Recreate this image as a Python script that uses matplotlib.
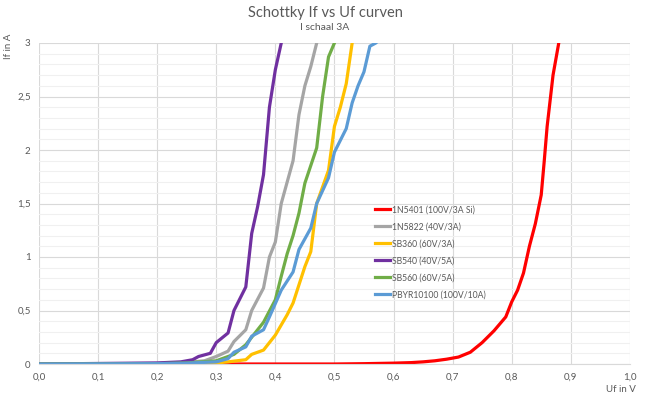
import matplotlib.pyplot as plt
from matplotlib.ticker import MultipleLocator, FuncFormatter

# Forward voltage (V) / forward current (A)
uf_1n5401 = [0.0, 0.5, 0.55, 0.6, 0.63, 0.65, 0.67, 0.69, 0.71, 0.73, 0.75, 0.77, 0.79,
             0.80, 0.81, 0.82, 0.83, 0.84, 0.85, 0.855, 0.86, 0.87, 0.88, 0.89]
if_1n5401 = [0.0, 0.0, 0.003, 0.008, 0.013, 0.02, 0.03, 0.045, 0.065, 0.11, 0.2, 0.31, 0.44,
             0.58, 0.69, 0.85, 1.1, 1.31, 1.58, 1.89, 2.22, 2.7, 3.01, 3.3]

uf_1n5822 = [0.0, 0.2, 0.25, 0.28, 0.3, 0.32, 0.33, 0.35, 0.36, 0.38, 0.39, 0.40, 0.41,
             0.43, 0.44, 0.45, 0.46, 0.47, 0.48]
if_1n5822 = [0.0, 0.005, 0.015, 0.03, 0.07, 0.12, 0.21, 0.32, 0.5, 0.71, 1.0, 1.14, 1.5,
             1.9, 2.33, 2.6, 2.78, 3.0, 3.3]

uf_sb360 = [0.0, 0.25, 0.3, 0.32, 0.35, 0.36, 0.38, 0.40, 0.42, 0.43, 0.45, 0.46, 0.47,
            0.49, 0.50, 0.51, 0.52, 0.53, 0.54]
if_sb360 = [0.0, 0.002, 0.01, 0.02, 0.04, 0.09, 0.13, 0.27, 0.46, 0.57, 0.91, 1.05, 1.5,
            1.81, 2.22, 2.4, 2.62, 3.0, 3.3]

uf_sb540 = [0.0, 0.2, 0.24, 0.26, 0.27, 0.29, 0.30, 0.32, 0.33, 0.35, 0.36, 0.37, 0.38,
            0.39, 0.40, 0.41, 0.42]
if_sb540 = [0.0, 0.01, 0.02, 0.04, 0.07, 0.10, 0.2, 0.29, 0.5, 0.72, 1.22, 1.47, 1.77,
            2.4, 2.75, 3.0, 3.3]

uf_sb560 = [0.0, 0.2, 0.25, 0.3, 0.33, 0.35, 0.38, 0.40, 0.41, 0.42, 0.43, 0.44, 0.45,
            0.47, 0.48, 0.49, 0.50, 0.51]
if_sb560 = [0.0, 0.003, 0.01, 0.03, 0.09, 0.18, 0.39, 0.6, 0.82, 1.03, 1.2, 1.41, 1.69,
            2.02, 2.5, 2.87, 3.0, 3.3]

uf_pbyr = [0.0, 0.2, 0.25, 0.3, 0.32, 0.33, 0.35, 0.36, 0.38, 0.39, 0.41, 0.43, 0.44,
           0.46, 0.47, 0.49, 0.50, 0.52, 0.53, 0.54, 0.55, 0.56, 0.57, 0.58]
if_pbyr = [0.0, 0.003, 0.008, 0.02, 0.05, 0.11, 0.16, 0.26, 0.32, 0.44, 0.69, 0.86, 1.07,
           1.27, 1.5, 1.74, 1.98, 2.2, 2.44, 2.6, 2.73, 2.97, 3.0, 3.05]

series = [
    ('1N5401 (100V/3A Si)', uf_1n5401, if_1n5401, '#FF0000'),
    ('1N5822 (40V/3A)', uf_1n5822, if_1n5822, '#A5A5A5'),
    ('SB360 (60V/3A)', uf_sb360, if_sb360, '#FFC000'),
    ('SB540 (40V/5A)', uf_sb540, if_sb540, '#7030A0'),
    ('SB560 (60V/5A)', uf_sb560, if_sb560, '#70AD47'),
    ('PBYR10100 (100V/10A)', uf_pbyr, if_pbyr, '#5B9BD5'),
]

plt.rcParams['font.family'] = ['Lato', 'DejaVu Sans']
txt = '#595959'

fig = plt.figure(figsize=(6.5, 4), dpi=100)
ax = fig.add_axes([0.06, 0.09, 0.909, 0.8025])

for name, x, y, c in series:
    ax.plot(x, y, color=c, linewidth=2.3, label=name, solid_joinstyle='round')

ax.set_xlim(0, 1.0)
ax.set_ylim(0, 3)
ax.xaxis.set_major_locator(MultipleLocator(0.1))
ax.yaxis.set_major_locator(MultipleLocator(0.5))
ax.yaxis.set_minor_locator(MultipleLocator(0.1))
ax.xaxis.set_major_formatter(FuncFormatter(lambda v, p: f'{v:.1f}'.replace('.', ',')))
ax.yaxis.set_major_formatter(FuncFormatter(lambda v, p: f'{v:g}'.replace('.', ',')))
ax.grid(which='major', color='#D9D9D9', linewidth=0.8)
ax.grid(which='minor', axis='y', color='#F0F0F0', linewidth=0.8)
ax.set_axisbelow(True)
for s in ['top', 'right', 'left']:
    ax.spines[s].set_visible(False)
ax.spines['bottom'].set_color('#D9D9D9')
ax.tick_params(which='both', length=0, labelsize=7, colors=txt, pad=6)
ax.tick_params(axis='y', which='minor', length=0)

fig.text(0.5, 0.967, 'Schottky If vs Uf curven', ha='center', va='center', fontsize=10.5, color=txt)
fig.text(0.5, 0.932, 'I schaal 3A', ha='center', va='center', fontsize=7.5, color=txt)
fig.text(0.013, 0.885, 'If in A', rotation=90, ha='center', va='center', fontsize=7, color=txt)
fig.text(0.955, 0.025, 'Uf in V', ha='center', va='center', fontsize=7, color=txt)

leg = ax.legend(loc='upper left', bbox_to_anchor=(0.5635, 0.505), frameon=False,
                fontsize=6.2, labelcolor=txt, handlelength=1.7, handletextpad=0.2,
                labelspacing=0.93, borderaxespad=0)

fig.savefig('out.png', dpi=100)
